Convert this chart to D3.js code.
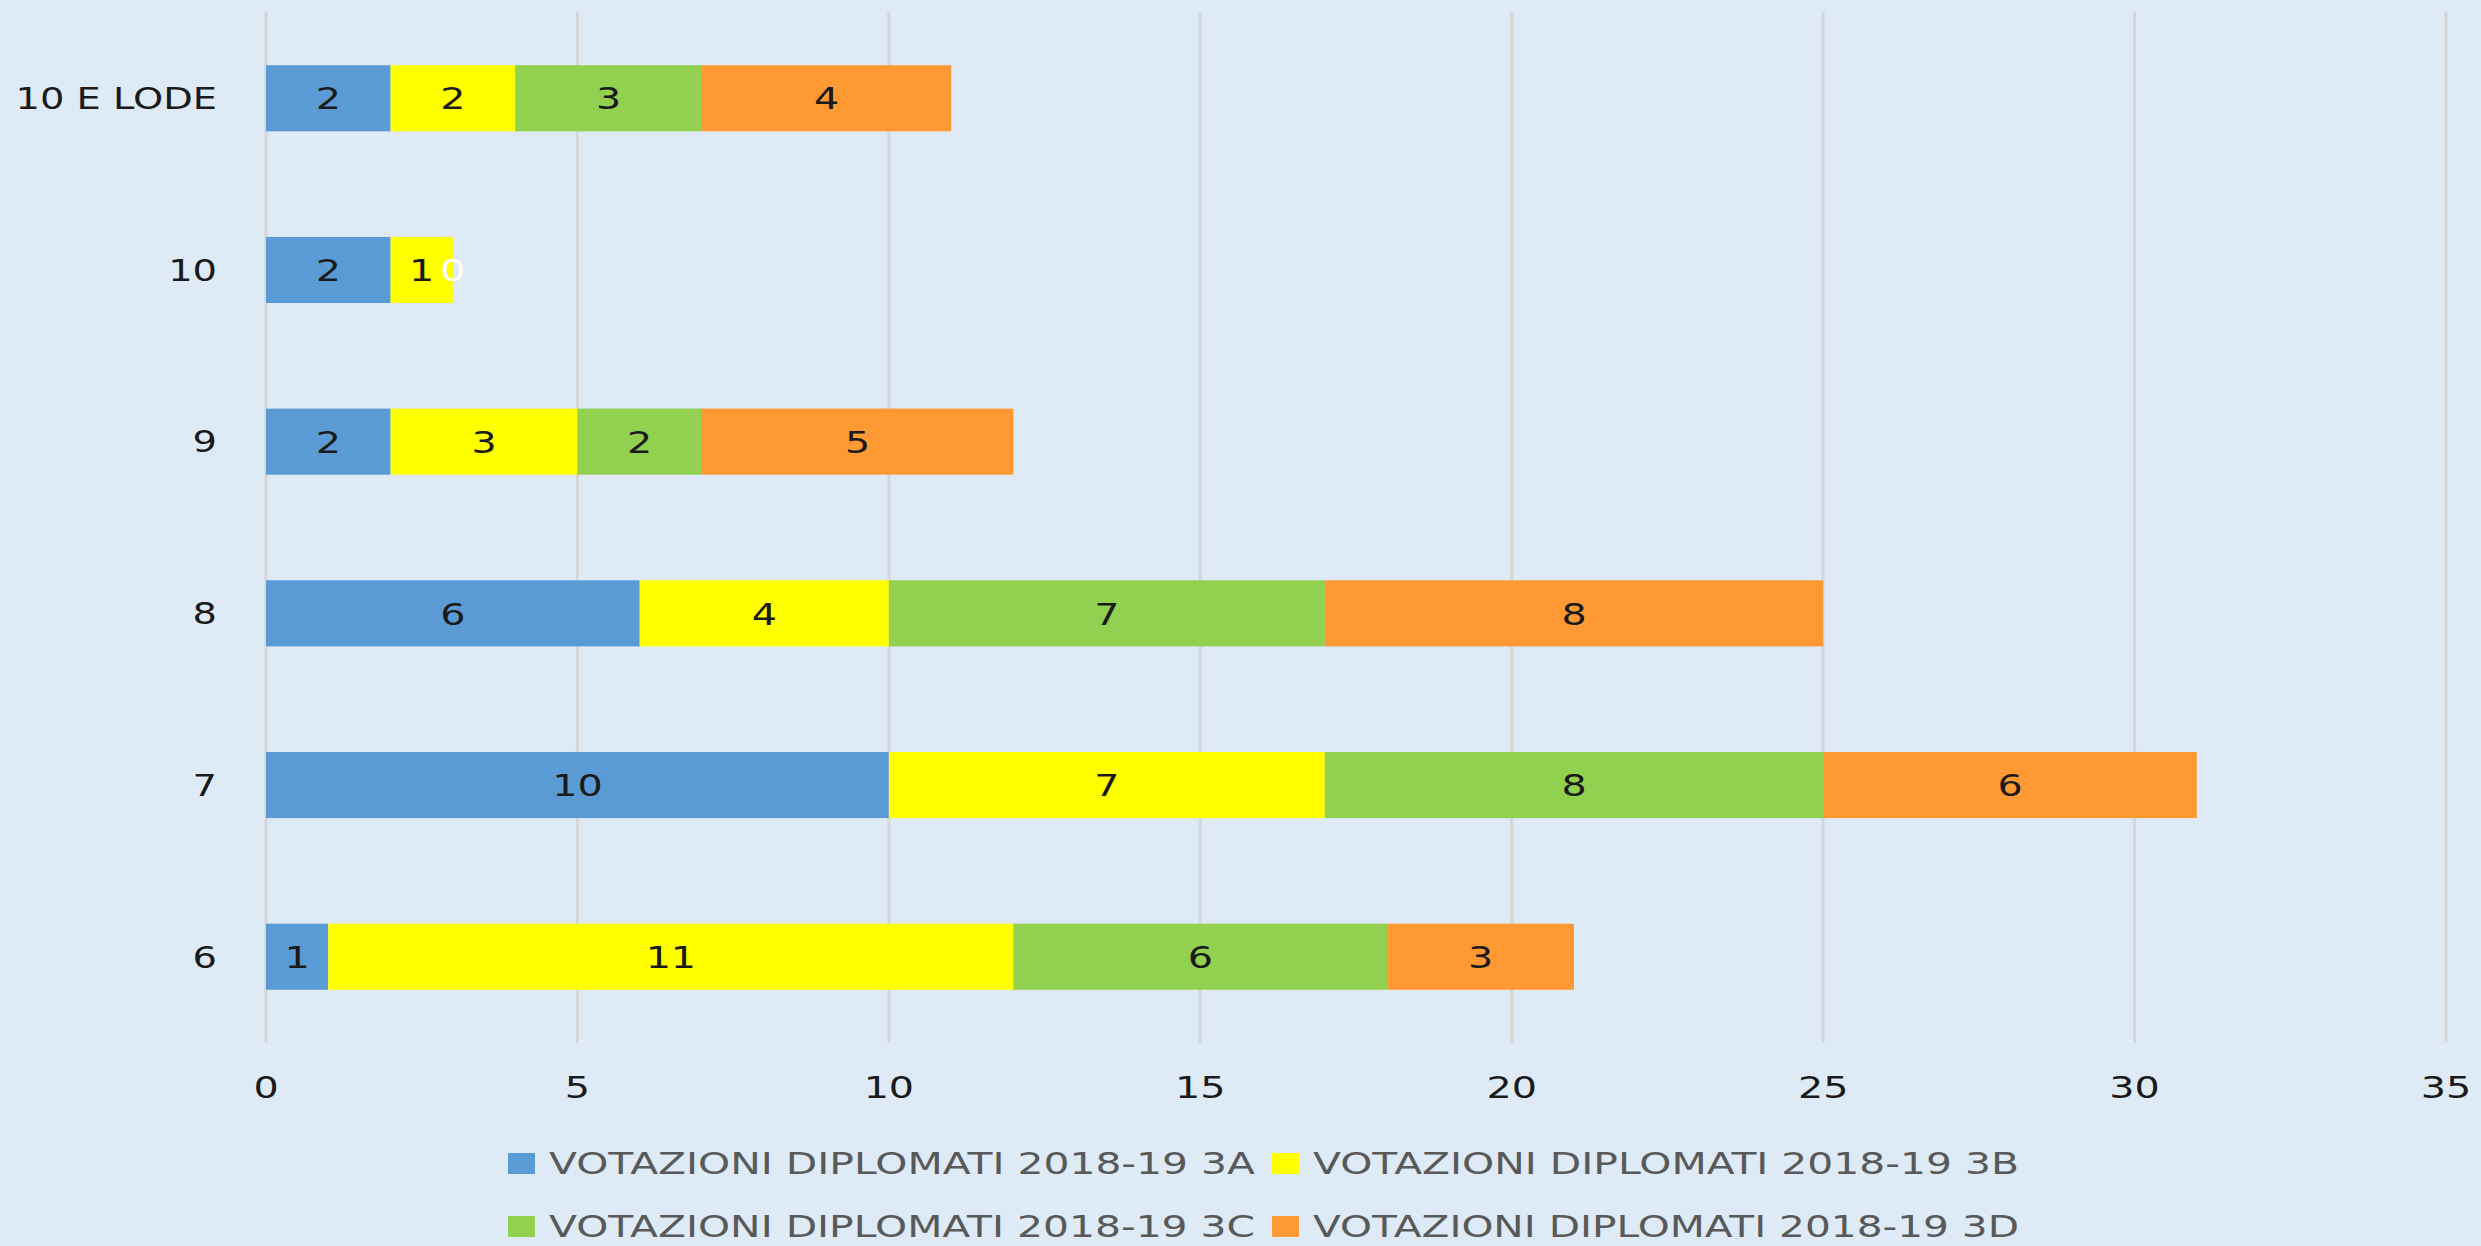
<!DOCTYPE html>
<html>
<head>
<meta charset="utf-8">
<script src="https://cdn.jsdelivr.net/npm/d3@7"></script>
<style>
  html, body { margin: 0; padding: 0; background: #DEEAF6; }
  svg { display: block; }
  text { font-family: "DejaVu Sans", sans-serif; fill: #1a1a1a; }
</style>
</head>
<body>
<svg id="chart" width="2481" height="1246"></svg>
<script>
// categories, bottom to top like the original
var categories = ["6", "7", "8", "9", "10", "10 E LODE"];
var seriesNames = ["VOTAZIONI DIPLOMATI 2018-19 3A", "VOTAZIONI DIPLOMATI 2018-19 3B",
                   "VOTAZIONI DIPLOMATI 2018-19 3C", "VOTAZIONI DIPLOMATI 2018-19 3D"];
var class3A = [1, 10, 6, 2, 2, 2];
var class3B = [11, 7, 4, 3, 1, 2];
var class3C = [6, 8, 7, 2, 0, 3];
var class3D = [3, 6, 8, 5, null, 4];
var xTicks = [0, 5, 10, 15, 20, 25, 30, 35];
var colors = ["#5B9BD5", "#FFFF00", "#92D050", "#FF9933"];

// the original text is drawn horizontally stretched
var stretch = 1.28;

drawChart();

function drawChart() {
    var svg = d3.select("#chart");
    var margin = {top: 12, right: 35, bottom: 203, left: 266};
    var width = 2481 - margin.left - margin.right,
        height = 1246 - margin.top - margin.bottom;
    var g = svg.append("g").attr("transform", "translate(" + margin.left + "," + margin.top + ")");

    var x = d3.scaleLinear().domain([0, 35]).range([0, width]);
    var y = d3.scaleBand().domain(categories.slice().reverse()).range([0, height]).paddingInner(0.615).paddingOuter(0.31);

    function place(px, py) {
        return "translate(" + px + "," + py + ") scale(" + stretch + ",1)";
    }

    // gridlines
    g.selectAll(".grid").data(xTicks).enter().append("line")
        .attr("x1", function(d) { return x(d); }).attr("x2", function(d) { return x(d); })
        .attr("y1", 0).attr("y2", height)
        .attr("stroke", "#D6D6D6").attr("stroke-width", 3);

    // stack data
    var all = [class3A, class3B, class3C, class3D];
    var rows = categories.map(function(c, i) {
        var r = {cat: c};
        all.forEach(function(s, k) { r["s" + k] = s[i] || 0; });
        return r;
    });
    var stack = d3.stack().keys(["s0", "s1", "s2", "s3"])(rows);

    stack.forEach(function(layer, k) {
        var lg = g.append("g");
        lg.selectAll("rect").data(layer).enter().append("rect")
            .attr("x", function(d) { return x(d[0]); })
            .attr("y", function(d) { return y(d.data.cat); })
            .attr("width", function(d) { return x(d[1]) - x(d[0]); })
            .attr("height", y.bandwidth())
            .attr("fill", colors[k]);
        lg.selectAll("text").data(layer.filter(function(d, i) { return all[k][i] !== null; }))
            .enter().append("text")
            .attr("transform", function(d) {
                return place(x((d[0] + d[1]) / 2), y(d.data.cat) + y.bandwidth() / 2);
            })
            .attr("dy", "0.36em")
            .attr("text-anchor", "middle")
            .attr("font-size", 31)
            .style("fill", function(d) { return d[1] - d[0] === 0 ? "#ffffff" : "#1a1a1a"; })
            .text(function(d) { return d[1] - d[0]; });
    });

    // category axis labels
    g.selectAll(".cat").data(categories).enter().append("text")
        .attr("transform", function(d) { return place(-49, y(d) + y.bandwidth() / 2); })
        .attr("dy", "0.36em")
        .attr("text-anchor", "end")
        .attr("font-size", 30)
        .text(function(d) { return d; });

    // x tick labels
    g.selectAll(".tick").data(xTicks).enter().append("text")
        .attr("transform", function(d) { return place(x(d), height + 55); })
        .attr("text-anchor", "middle")
        .attr("font-size", 31)
        .text(function(d) { return d; });

    // legend
    var legendPos = [[508, 1163], [1272, 1163], [508, 1226], [1272, 1226]];
    seriesNames.forEach(function(name, k) {
        var p = legendPos[k];
        svg.append("rect").attr("x", p[0]).attr("y", p[1] - 10).attr("width", 27).attr("height", 21).attr("fill", colors[k]);
        svg.append("text").attr("x", p[0] + 41).attr("y", p[1]).attr("dy", "0.36em")
            .attr("font-size", 31)
            .attr("textLength", 706).attr("lengthAdjust", "spacingAndGlyphs")
            .style("fill", "#595959")
            .text(name);
    });
}
</script>
</body>
</html>
